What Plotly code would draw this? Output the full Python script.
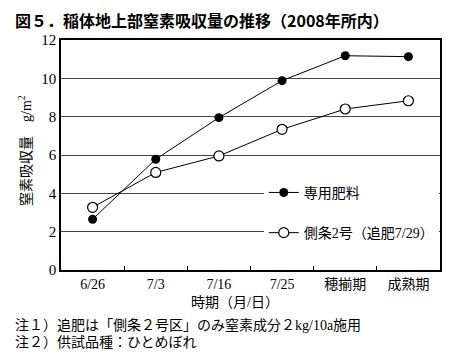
import plotly.graph_objects as go

categories = ["6/26", "7/3", "7/16", "7/25", "穂揃期", "成熟期"]
senyo = [2.65, 5.78, 7.95, 9.88, 11.18, 11.13]
sokujo = [3.27, 5.09, 5.95, 7.34, 8.40, 8.83]
name_senyo = "専用肥料"
name_sokujo = "側条2号（追肥7/29）"
y_ticks = [0, 2, 4, 6, 8, 10, 12]
y_tick_labels = ["0", "2", "4", "6", "8", "10", "12"]

SERIF = "Liberation Serif, DejaVu Serif, Noto Sans CJK JP, serif"
SANS = "Noto Sans CJK JP, Liberation Sans, sans-serif"

fig = go.Figure()
fig.add_trace(go.Scatter(
    x=categories, y=senyo, name=name_senyo, mode="lines+markers",
    line=dict(color="black", width=1),
    marker=dict(symbol="circle", size=9, color="black"),
    legendgroup="a",
))
fig.add_trace(go.Scatter(
    x=categories, y=sokujo, name=name_sokujo, mode="lines+markers",
    line=dict(color="black", width=1),
    marker=dict(symbol="circle", size=10, color="white", line=dict(color="black", width=1.2)),
    legendgroup="b",
))

fig.update_layout(
    width=461, height=362,
    margin=dict(l=61, r=21, t=40, b=92),
    paper_bgcolor="white", plot_bgcolor="white",
    font=dict(family=SERIF, size=14, color="black"),
    showlegend=True,
    legend=dict(x=0.535, y=0.405, xanchor="left", yanchor="top",
                bgcolor="white", borderwidth=0, orientation="v",
                traceorder="grouped", tracegroupgap=19,
                font=dict(family=SERIF, size=14)),
    xaxis=dict(type="category", range=[-0.5, 5.5], showline=True, mirror=True,
               linecolor="black", linewidth=1.5, showgrid=False,
               ticks="inside", tickson="boundaries", ticklen=4, tickcolor="black",
               tickfont=dict(family=SERIF, size=14)),
    yaxis=dict(range=[0, 12], tickmode="array", tickvals=y_ticks, ticktext=y_tick_labels,
               showline=True, mirror=True,
               linecolor="black", linewidth=1.5, showgrid=True, gridcolor="#444",
               gridwidth=1, zeroline=False, ticks="",
               tickfont=dict(family=SERIF, size=15)),
    annotations=[
        dict(text="図５．稲体地上部窒素吸収量の推移（2008年所内）", x=13, y=20,
             showarrow=False, xanchor="left", yanchor="middle",
             font=dict(family=SANS, size=16, weight="bold")),
        dict(text="窒素吸収量　g/m<sup>2</sup>", x=25, y=151, textangle=-90,
             showarrow=False, xanchor="center", yanchor="middle",
             font=dict(family=SERIF, size=14)),
        dict(text="時期（月/日）", x=235, y=302, showarrow=False,
             xanchor="center", yanchor="middle", font=dict(family=SERIF, size=14)),
        dict(text="注１）追肥は「側条２号区」のみ窒素成分２kg/10a施用", x=13, y=325,
             showarrow=False, xanchor="left", yanchor="middle",
             font=dict(family=SERIF, size=14)),
        dict(text="注２）供試品種：ひとめぼれ", x=13, y=342,
             showarrow=False, xanchor="left", yanchor="middle",
             font=dict(family=SERIF, size=14)),
    ],
)

# convert pixel positions of annotations to paper coordinates
W, H = 461, 362
L, R, T, B = 61, 21, 40, 92
pw, ph = W - L - R, H - T - B
for a in fig.layout.annotations:
    a.xref = "paper"
    a.yref = "paper"
    a.x = (a.x - L) / pw
    a.y = (H - B - a.y) / ph

fig.write_html("out.html", config={"displayModeBar": False},
               post_script="document.body.style.margin='0';")
